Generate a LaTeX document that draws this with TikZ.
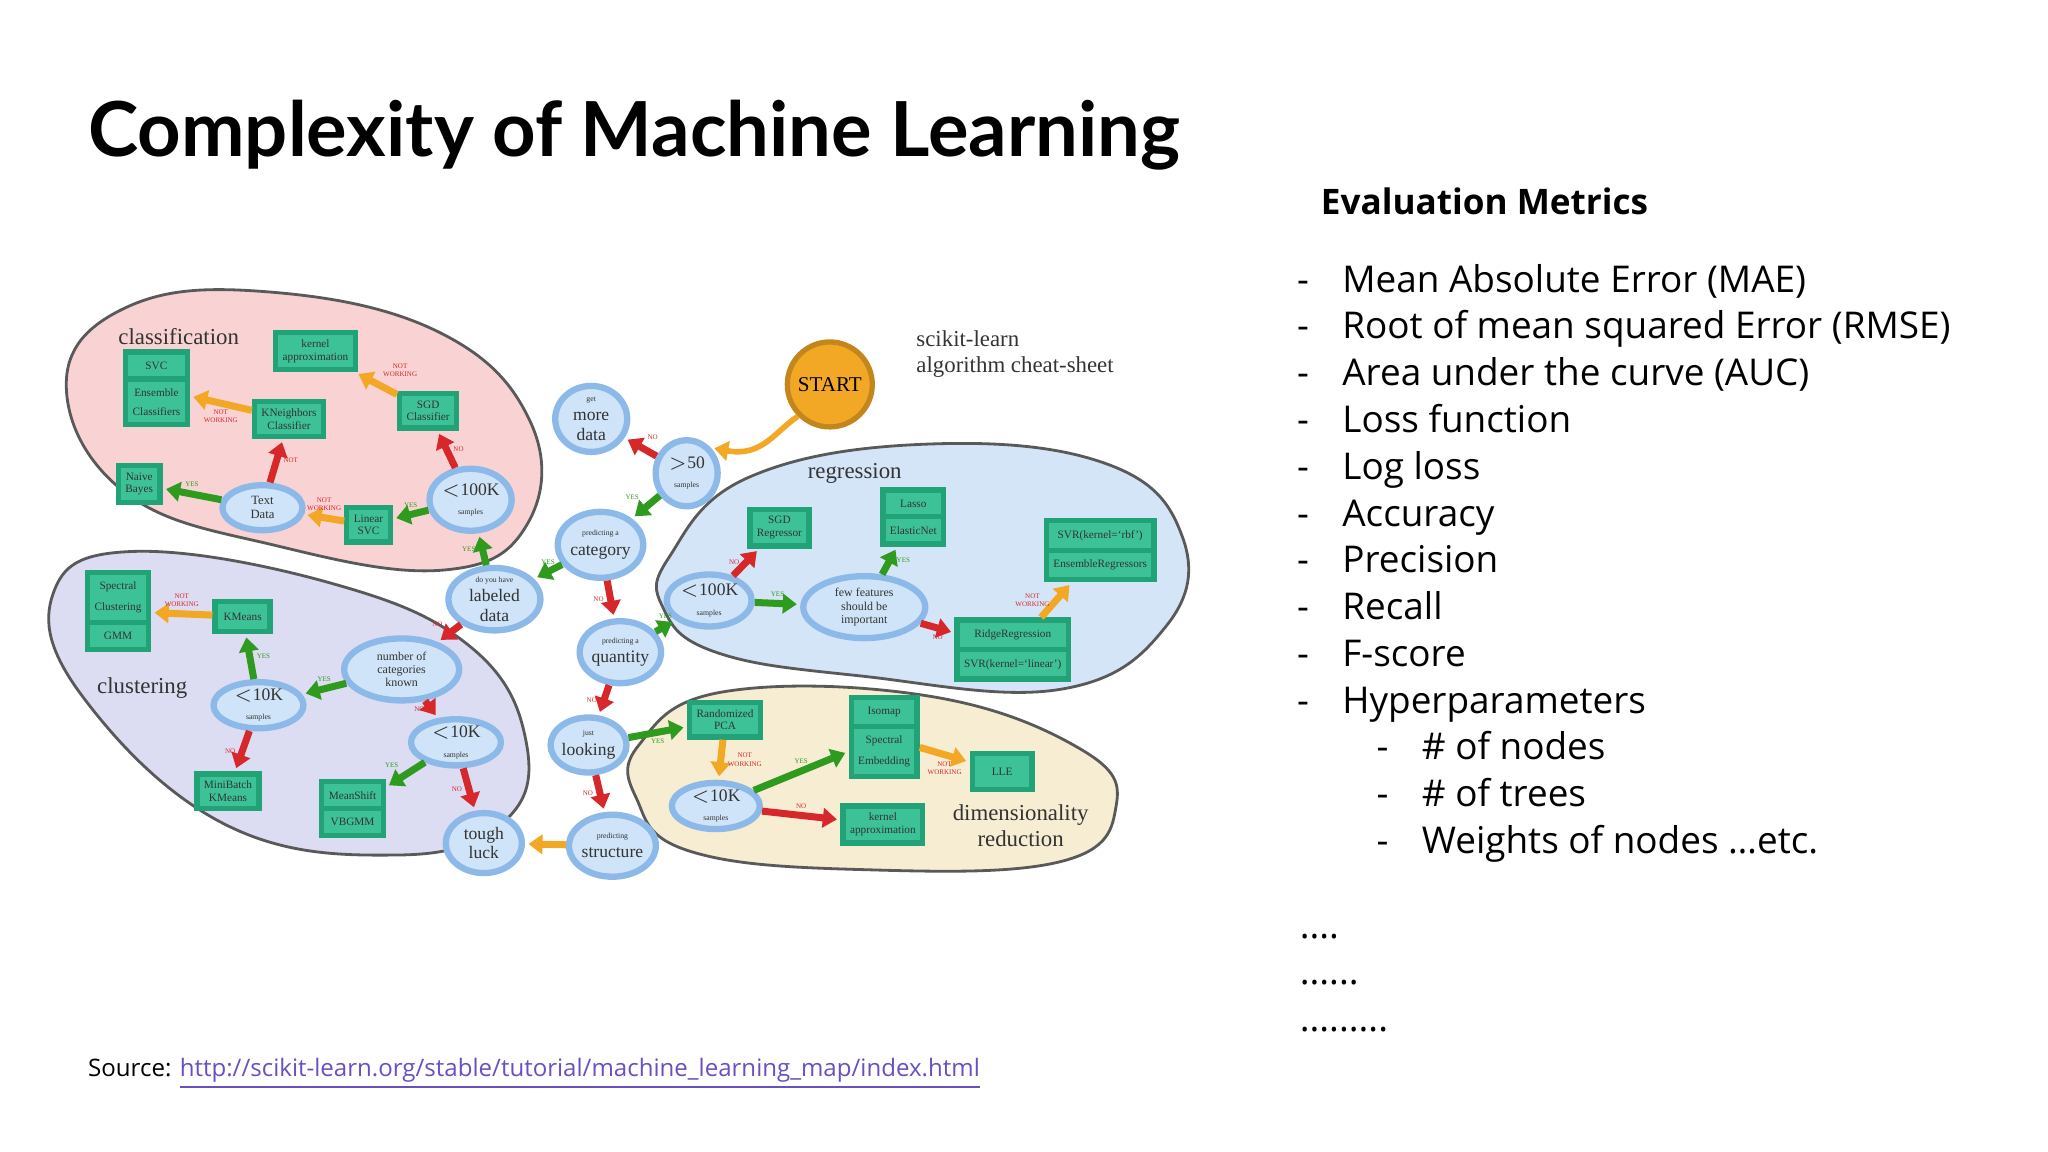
\documentclass[tikz,border=0pt]{standalone}
\usepackage{fontspec}
\setmainfont{Liberation Serif}
\newfontfamily\slidefont{Open Sans}
\newfontfamily\titlefont{Lato}
\usetikzlibrary{arrows.meta}
\usetikzlibrary{shapes}
\definecolor{pinkblob}{HTML}{F9D3D3}
\definecolor{lilacblob}{HTML}{DCDCF3}
\definecolor{blueblob}{HTML}{D5E5F8}
\definecolor{sandblob}{HTML}{F6EDD3}
\definecolor{qfill}{HTML}{CFE4F8}
\definecolor{qdraw}{HTML}{8DB9E8}
\definecolor{boxfill}{HTML}{3CC296}
\definecolor{boxdraw}{HTML}{21A277}
\definecolor{yescol}{HTML}{2E9A1E}
\definecolor{nocol}{HTML}{D6282B}
\definecolor{nwcol}{HTML}{F2A824}
\definecolor{linkcol}{HTML}{6A4FC2}
\tikzset{
  blob/.style={draw=black!65, line width=0.8pt},
  question/.style={ellipse, fill=qfill, draw=qdraw, line width=1.8pt, align=center,
    inner sep=0pt, font=\fontsize{5}{5.5}\selectfont, text=black!80},
  algo/.style={rectangle, fill=boxfill, draw=boxdraw, line width=1.5pt, align=center,
    inner sep=2pt, font=\fontsize{3.2}{3.6}\selectfont, text=black!80},
  algo2/.style={algo, rectangle split, rectangle split parts=2, rectangle split draw splits=true},
  arr/.style={line width=2pt, -{Triangle[length=4pt,width=5.5pt]}, shorten >=1pt},
  yes/.style={arr, yescol},
  no/.style={arr, nocol},
  nw/.style={arr, nwcol},
  lbl/.style={font=\fontsize{2}{2.3}\selectfont, align=center, inner sep=1pt},
  region/.style={font=\fontsize{6.5}{7.5}\selectfont, text=black!80, align=center},
  metric/.style={anchor=base west, font=\slidefont\fontsize{10.5}{12}\selectfont, inner sep=0pt}
}
\newcommand{\sm}[1]{{\fontsize{2.2}{2.6}\selectfont #1}}
\begin{document}
\begin{tikzpicture}[x=0.013256cm, y=-0.013256cm]
	\useasboundingbox (0,0) rectangle (1545,869);
	% title
	\node[anchor=base west, inner sep=0pt, font=\titlefont\bfseries\fontsize{21.6}{26}\selectfont] (title) at (66,118) {Complexity of Machine Learning};
	% blobs
	\draw[blob, fill=pinkblob] plot[smooth cycle, tension=0.7] coordinates {(50,290) (95,232) (200,220) (330,250) (400,318) (398,395) (335,430) (210,412) (95,372)};
	\draw[blob, fill=lilacblob] plot[smooth cycle, tension=0.7] coordinates {(40,448) (100,416) (250,440) (355,488) (397,560) (380,620) (300,645) (170,622) (62,525)};
	\draw[blob, fill=blueblob] plot[smooth cycle, tension=0.7] coordinates {(505,420) (565,360) (700,335) (835,350) (892,405) (880,472) (800,520) (650,510) (540,492) (500,458)};
	\draw[blob, fill=sandblob] plot[smooth cycle, tension=0.7] coordinates {(482,562) (545,522) (700,525) (815,565) (842,608) (800,650) (650,656) (520,642) (480,602)};
	% region labels
	\node[region, anchor=west] (lclass) at (80,254) {classification};
	\node[region, anchor=west] (lclus) at (64,519) {clustering};
	\node[region, anchor=west] (lreg) at (600,357) {regression};
	\node[region] (ldim) at (770,623) {dimensionality\\reduction};
	\node[region, anchor=north west, align=left] (lsheet) at (682,240) {scikit-learn\\algorithm cheat-sheet};
	% questions
	\node[circle, fill=nwcol, draw=nwcol!80!black, line width=1.5pt, minimum size=0.85cm, font=\fontsize{6}{7}\selectfont, inner sep=0pt] (start) at (626,290) {START};
	\node[question, minimum width=0.72cm, minimum height=0.66cm] (more) at (446,316) {\sm{get}\\more\\data};
	\node[question, minimum width=0.62cm, minimum height=0.66cm] (fifty) at (518,357) {$>$50\\\sm{samples}};
	\node[question, minimum width=0.8cm, minimum height=0.66cm] (cat) at (453,411) {\sm{predicting a}\\category};
	\node[question, minimum width=0.92cm, minimum height=0.62cm] (lab) at (373,452) {\sm{do you have}\\labeled\\data};
	\node[question, minimum width=0.8cm, minimum height=0.62cm] (quant) at (468,492) {\sm{predicting a}\\quantity};
	\node[question, minimum width=0.76cm, minimum height=0.55cm] (look) at (444,562) {\sm{just}\\looking};
	\node[question, minimum width=0.82cm, minimum height=0.62cm] (struct) at (462,638) {\sm{predicting}\\structure};
	\node[question, minimum width=0.76cm, minimum height=0.6cm] (tough) at (365,636) {tough\\luck};
	\node[question, minimum width=0.74cm, minimum height=0.62cm] (chk) at (355,377) {$<$100K\\\sm{samples}};
	\node[question, minimum width=0.8cm, minimum height=0.45cm, font=\fontsize{3.6}{4}\selectfont] (text) at (198,383) {Text\\Data};
	\node[question, minimum width=1.15cm, minimum height=0.62cm, font=\fontsize{3.4}{3.8}\selectfont] (ncat) at (303,505) {number of\\categories\\known};
	\node[question, minimum width=0.9cm, minimum height=0.45cm] (ka) at (195,532) {$<$10K\\\sm{samples}};
	\node[question, minimum width=0.9cm, minimum height=0.45cm] (kb) at (344,560) {$<$10K\\\sm{samples}};
	\node[question, minimum width=0.85cm, minimum height=0.52cm] (rk) at (535,453) {$<$100K\\\sm{samples}};
	\node[question, minimum width=1.22cm, minimum height=0.62cm, font=\fontsize{3.4}{3.8}\selectfont] (few) at (652,458) {few features\\should be\\important};
	\node[question, minimum width=0.88cm, minimum height=0.45cm] (dk) at (540,608) {$<$10K\\\sm{samples}};
	% estimators
	\node[algo] (kern) at (238,265) {kernel\\approximation};
	\node[algo2] (svc) at (118,293) {SVC \nodepart{second} \shortstack{Ensemble\\Classifiers}};
	\node[algo] (knn) at (218,316) {KNeighbors\\Classifier};
	\node[algo] (sgdc) at (323,310) {SGD\\Classifier};
	\node[algo] (nb) at (105,365) {Naive\\Bayes};
	\node[algo] (lsvc) at (278,396) {Linear\\SVC};
	\node[algo2] (spec) at (89,461) {\shortstack{Spectral\\Clustering} \nodepart{second} GMM};
	\node[algo, minimum width=0.55cm, minimum height=0.3cm] (km) at (183,465) {KMeans};
	\node[algo] (mbk) at (172,597) {MiniBatch\\KMeans};
	\node[algo2] (ms) at (266,610) {MeanShift \nodepart{second} VBGMM};
	\node[algo] (sgdr) at (588,398) {SGD\\Regressor};
	\node[algo2] (lasso) at (689,390) {Lasso \nodepart{second} ElasticNet};
	\node[algo2] (svr) at (830,415) {SVR(kernel=`rbf') \nodepart{second} EnsembleRegressors};
	\node[algo2] (ridge) at (764,490) {RidgeRegression \nodepart{second} SVR(kernel=`linear')};
	\node[algo] (rpca) at (547,543) {Randomized\\PCA};
	\node[algo2] (iso) at (667,556) {Isomap \nodepart{second} \shortstack{Spectral\\Embedding}};
	\node[algo, minimum width=0.6cm, minimum height=0.36cm] (lle) at (756,582) {LLE};
	\node[algo] (kern2) at (666,622) {kernel\\approximation};
	% connectors
	\draw[nw, line width=1.6pt] (start.south west) .. controls (585,325) and (575,345) .. (fifty.north east);
	\path
		(fifty) edge[no] node[lbl, nocol, above right] {NO} (more)
		(fifty) edge[yes] node[lbl, yescol, above left] {YES} (cat)
		(cat) edge[yes] node[lbl, yescol, above] {YES} (lab)
		(cat) edge[no] node[lbl, nocol, left] {NO} (quant)
		(lab) edge[yes] node[lbl, yescol, left] {YES} (chk)
		(lab) edge[no] node[lbl, nocol, above left] {NO} (ncat)
		(chk) edge[no] node[lbl, nocol, right] {NO} (sgdc)
		(chk) edge[yes] node[lbl, yescol, above] {YES} (lsvc)
		(sgdc) edge[nw] node[lbl, nocol, above right] {NOT\\WORKING} (kern)
		(lsvc) edge[nw] node[lbl, nocol, above] {NOT\\WORKING} (text)
		(text) edge[no] node[lbl, nocol, right] {NOT} (knn)
		(text) edge[yes] node[lbl, yescol, above] {YES} (nb)
		(knn) edge[nw] node[lbl, nocol, below] {NOT\\WORKING} (svc)
		(ncat) edge[yes] node[lbl, yescol, above] {YES} (ka)
		(ncat) edge[no] node[lbl, nocol, left] {NO} (kb)
		(ka) edge[yes] node[lbl, yescol, right] {YES} (km)
		(ka) edge[no] node[lbl, nocol, left] {NO} (mbk)
		(km) edge[nw] node[lbl, nocol, above] {NOT\\WORKING} (spec)
		(kb) edge[yes] node[lbl, yescol, above left] {YES} (ms)
		(kb) edge[no] node[lbl, nocol, left] {NO} (tough)
		(quant) edge[yes] node[lbl, yescol, above] {YES} (rk)
		(quant) edge[no] node[lbl, nocol, left] {NO} (look)
		(rk) edge[no] node[lbl, nocol, left] {NO} (sgdr)
		(rk) edge[yes] node[lbl, yescol, above] {YES} (few)
		(few) edge[yes] node[lbl, yescol, right] {YES} (lasso)
		(few) edge[no] node[lbl, nocol, below] {NO} (ridge)
		(ridge) edge[nw] node[lbl, nocol, left] {NOT\\WORKING} (svr)
		(look) edge[yes] node[lbl, yescol, below] {YES} (rpca)
		(look) edge[no] node[lbl, nocol, left] {NO} (struct)
		(struct) edge[nw] (tough)
		(rpca) edge[nw] node[lbl, nocol, right] {NOT\\WORKING} (dk)
		(dk) edge[yes] node[lbl, yescol, above] {YES} (iso)
		(dk) edge[no] node[lbl, nocol, above] {NO} (kern2)
		(iso) edge[nw] node[lbl, nocol, below] {NOT\\WORKING} (lle);
	% source
	\node[anchor=base west, inner sep=0pt, font=\slidefont\fontsize{6.85}{8}\selectfont] (src) at (66,812) {Source: \textcolor{linkcol}{\underline{http://scikit-learn.org/stable/tutorial/machine\_learning\_map/index.html}}};
	% metrics
	\node[anchor=base west, inner sep=0pt, font=\slidefont\bfseries\fontsize{10}{12}\selectfont] (head) at (996,162) {Evaluation Metrics};
	\foreach \t [count=\i] in {Mean Absolute Error (MAE), Root of mean squared Error (RMSE), Area under the curve (AUC), Loss function, Log loss, Accuracy, Precision, Recall, F-score, Hyperparameters}
		\node[metric] (m\i) at (978,185+35.3*\i) {-\hspace{9.5pt}\t};
	\foreach \t [count=\i] in {\# of nodes, \# of trees, Weights of nodes \dots etc.}
		\node[metric] (s\i) at (1038,538+35.3*\i) {-\hspace{9.5pt}\t};
	\node[metric] (d1) at (980,708) {....};
	\node[metric] (d2) at (980,743) {......};
	\node[metric] (d3) at (980,778) {.........};
\end{tikzpicture}
\end{document}
